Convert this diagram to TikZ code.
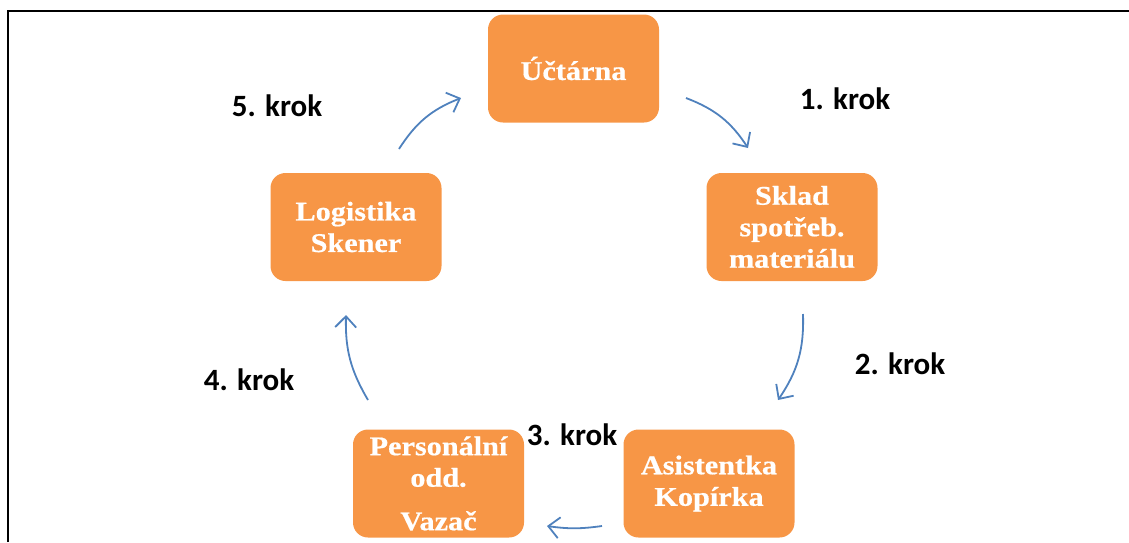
\documentclass[tikz,border=0pt]{standalone}
\usepackage{fontspec}
\setmainfont{Liberation Serif}
\newfontfamily\boxfont[FakeStretch=1.12, FakeBold=0.6]{Liberation Serif}
\newfontfamily\labelfont{Carlito}
\usetikzlibrary{arrows.meta}
\definecolor{boxorange}{HTML}{F79646}
\definecolor{arrowblue}{HTML}{4F81BD}
\tikzset{
  stepbox/.style={draw=none, fill=boxorange, rounded corners=15pt,
    minimum width=171pt, minimum height=108pt, inner sep=0pt,
    align=center, text=white,
    font=\boxfont\bfseries\fontsize{27}{31.5}\selectfont},
  steplabel/.style={font=\labelfont\bfseries\fontsize{31}{36}\selectfont, inner sep=0pt},
  flow/.style={draw=arrowblue, line width=1.8pt,
    -{Straight Barb[length=11pt, width=21pt, line width=1.8pt]}},
}
\begin{document}
\begin{tikzpicture}[x=1pt, y=1pt]
  \useasboundingbox (0,0) rectangle (1129,-542);
  % frame
  \draw[line width=1.6pt] (8,-542) -- (8,-11) -- (1129,-11);

  % departments
  \node[stepbox] (uct) at (573.5,-68.5) {Účtárna};
  \node[stepbox] (skl) at (792,-227) {Sklad\\spotřeb.\\materiálu};
  \node[stepbox] (asi) at (709,-483.5) {Asistentka\\Kopírka};
  \node[stepbox] (per) at (438.5,-483.5) {Personální\\odd.\\[12pt]Vazač};
  \node[stepbox] (log) at (356,-227) {Logistika\\Skener};

  % step labels
  \node[steplabel] (k1) at (845,-99) {1. krok};
  \node[steplabel] (k2) at (900,-364) {2. krok};
  \node[steplabel] (k3) at (572,-435) {3. krok};
  \node[steplabel] (k4) at (249,-380) {4. krok};
  \node[steplabel] (k5) at (277,-106) {5. krok};

  % arrow ends
  \coordinate (a1s) at (686,-98);  \coordinate (a1e) at (748,-148);
  \coordinate (a2s) at (803,-314); \coordinate (a2e) at (778,-400);
  \coordinate (a3s) at (602,-526); \coordinate (a3e) at (547,-526);
  \coordinate (a4s) at (368,-400); \coordinate (a4e) at (346,-315);
  \coordinate (a5s) at (399,-149); \coordinate (a5e) at (461,-98);

  % cycle arrows
  \draw[flow] (a1s) to[bend left=18] (a1e);
  \draw[flow] (a2s) to[bend left=18] (a2e);
  \draw[flow] (a3s) to[bend left=8] (a3e);
  \draw[flow] (a4s) to[bend left=16] (a4e);
  \draw[flow] (a5s) to[bend left=18] (a5e);
\end{tikzpicture}
\end{document}
